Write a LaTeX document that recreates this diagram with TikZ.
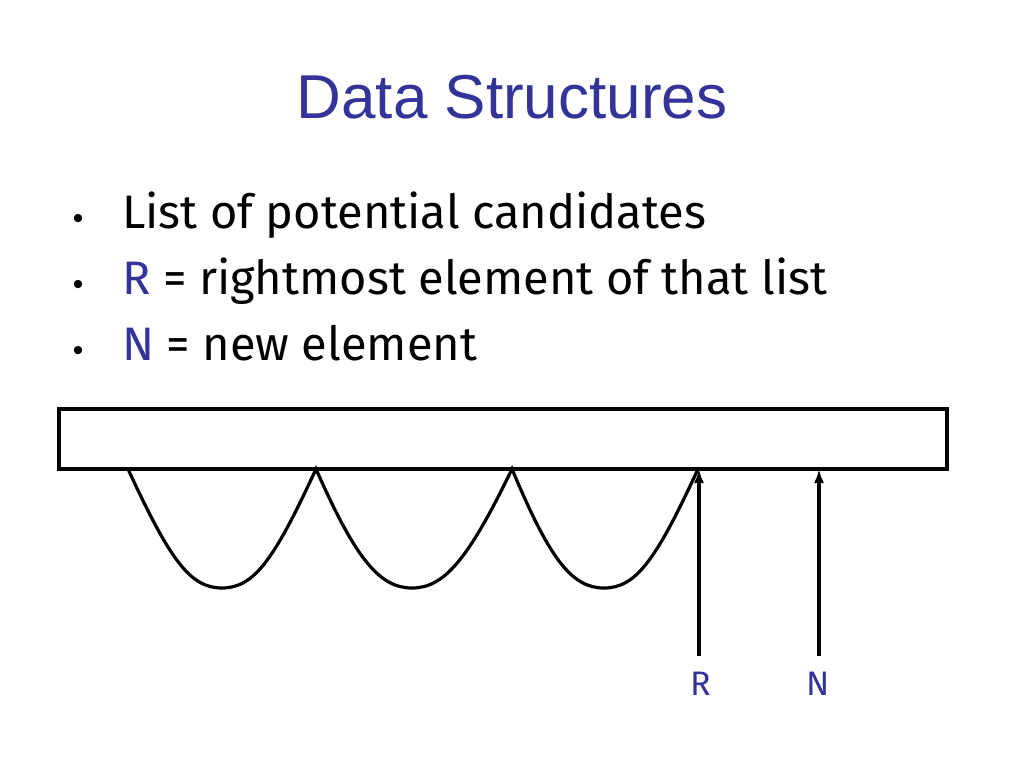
\documentclass[tikz,border=0pt]{standalone}
\usepackage{fontspec}
\usetikzlibrary{arrows.meta}
\setmainfont{Liberation Sans}
\newfontfamily\bodyfont{Fira Sans}
\definecolor{tblue}{RGB}{51,51,153}
\begin{document}
\begin{tikzpicture}[x=1pt,y=-1pt,
  bul/.style={anchor=base west,font=\bodyfont\fontsize{47}{52}\selectfont,inner sep=0},
  curve/.style={line width=3.2pt},
  ptr/.style={line width=3.2pt,-{Latex[length=14pt,width=10pt]}}]
\useasboundingbox[fill=white] (0,0) rectangle (1024,768);
\node[text=tblue,font=\fontsize{62}{66}\selectfont] (title) at (512,97) {Data Structures};
\foreach \y/\n in {228/b1,294/b2,360/b3}{\node[anchor=base,font=\fontsize{30}{30}\selectfont] (\n) at (78,\y) {\textbullet};}
\node[bul] (t1) at (122,228) {List of potential candidates};
\node[bul] (t2) at (122,294) {\textcolor{tblue}{R} = rightmost element of that list};
\node[bul] (t3) at (122,360) {\textcolor{tblue}{N} = new element};
\node[draw,line width=4pt,minimum width=888pt,minimum height=60pt,inner sep=0] (list) at (503,439) {};
\coordinate (a) at (128,469); \coordinate (b) at (316,469); \coordinate (c) at (512,469); \coordinate (d) at (698,469);
\draw[curve] (a) .. controls (170,560) and (190,588) .. (222,588) .. controls (254,588) and (274,560) .. (b)
  .. controls (356,560) and (380,588) .. (412,588) .. controls (444,588) and (468,560) .. (c)
  .. controls (550,560) and (572,588) .. (604,588) .. controls (636,588) and (656,560) .. (d);
\node[text=tblue,font=\bodyfont\fontsize{34}{34}\selectfont] (R) at (701,684) {R};
\node[text=tblue,font=\bodyfont\fontsize{34}{34}\selectfont] (N) at (818,684) {N};
\coordinate (rs) at (699,656); \coordinate (ns) at (819,656);
\draw[ptr] (rs) -- (699,469);
\draw[ptr] (ns) -- (819,469);
\end{tikzpicture}
\end{document}
